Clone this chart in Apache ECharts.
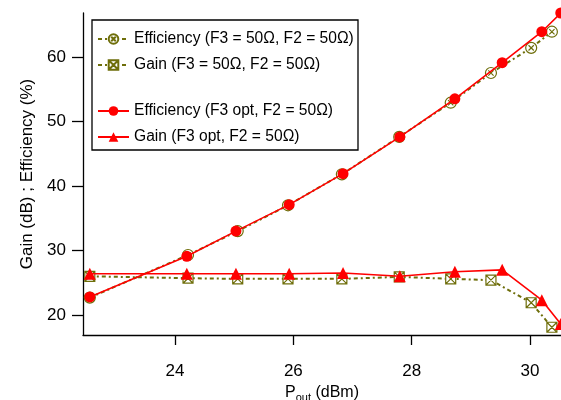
<!DOCTYPE html>
<html>
<head>
<meta charset="utf-8">
<script src="https://cdn.jsdelivr.net/npm/echarts@6/dist/echarts.min.js"></script>
<style>
html,body{margin:0;padding:0;background:#fff;}
#chart{width:561px;height:400px;}
</style>
</head>
<body>
<div id="chart"></div>
<script>
// ---- data ----
var poutF350 = [22.56, 24.22, 25.06, 25.91, 26.82, 27.79, 28.66, 29.34, 30.02, 30.37];
var effF350  = [22.7, 29.3, 33.0, 37.0, 41.8, 47.6, 52.9, 57.5, 61.4, 63.9];
var gainF350 = [26.0, 25.7, 25.6, 25.6, 25.6, 25.9, 25.6, 25.4, 21.9, 18.1];

var poutF3opt = [22.56, 24.20, 25.03, 25.93, 26.84, 27.80, 28.73, 29.53, 30.20, 30.52];
var effF3opt  = [22.8, 29.1, 33.0, 37.1, 41.9, 47.6, 53.5, 59.1, 63.9, 66.8];
var gainF3opt = [26.4, 26.4, 26.4, 26.4, 26.5, 26.0, 26.7, 27.0, 22.3, 18.6];

var xTicks = [24, 26, 28, 30];
var yTicks = [20, 30, 40, 50, 60];

var seriesNames = [
  'Efficiency (F3 = 50\u03A9, F2 = 50\u03A9)',
  'Gain (F3 = 50\u03A9, F2 = 50\u03A9)',
  'Efficiency (F3 opt, F2 = 50\u03A9)',
  'Gain (F3 opt, F2 = 50\u03A9)'
];

function pairs(xs, ys){ return xs.map(function(x,i){ return [x, ys[i]]; }); }

var OLIVE = '#6e6e0a';
var RED = '#ff0000';
var FONT = "'Liberation Sans', Arial, sans-serif";

var circX = 'path://M0,-5 A5,5 0 1,1 0,5 A5,5 0 1,1 0,-5 Z M-2.4,-2.4 L2.4,2.4 M2.4,-2.4 L-2.4,2.4';
var sqX = 'path://M-5,-5 L5,-5 L5,5 L-5,5 Z M-5,-5 L5,5 M5,-5 L-5,5';

var chart = echarts.init(document.getElementById('chart'), null, {renderer:'canvas'});
chart.setOption({
  animation: false,
  textStyle: {fontFamily: FONT},
  grid: {left: 83, right: 0, top: 13, bottom: 65, containLabel: false, outerBoundsMode: 'none'},
  xAxis: {
    type: 'value', min: 22.445, max: 30.524,
    name: '{a|P}{b|out}{a| (dBm)}',
    nameLocation: 'middle', nameGap: 45,
    nameTextStyle: {rich: {
      a: {fontSize: 16, fontFamily: FONT, color: '#000'},
      b: {fontSize: 11, fontFamily: FONT, color: '#000', padding: [10,0,0,0]}
    }},
    axisLine: {lineStyle: {color: '#000', width: 1.3}},
    axisTick: {show: true, inside: false, length: 10, lineStyle: {color:'#000', width: 1.3}, customValues: xTicks},
    axisLabel: {color: '#000', fontSize: 17, margin: 28, fontFamily: FONT, customValues: xTicks},
    splitLine: {show: false}
  },
  yAxis: {
    type: 'value', min: 16.9, max: 66.8,
    name: 'Gain (dB) ; Efficiency (%)',
    nameLocation: 'middle', nameGap: 47,
    nameTextStyle: {fontSize: 17, color: '#000', fontFamily: FONT},
    axisLine: {lineStyle: {color: '#000', width: 1.3}},
    axisTick: {show: true, inside: false, length: 11, lineStyle: {color:'#000', width: 1.3}, customValues: yTicks},
    axisLabel: {color: '#000', fontSize: 17, margin: 17, fontFamily: FONT, customValues: yTicks},
    splitLine: {show: false}
  },
  graphic: [{
    type: 'rect', z: 0,
    shape: {x: 92, y: 20, width: 266, height: 130},
    style: {fill: '#fff', stroke: '#000', lineWidth: 1.3}
  }],
  legend: [{
    data: [seriesNames[0], seriesNames[1]],
    orient: 'vertical', left: 97, top: 31, padding: 0,
    itemWidth: 31, itemHeight: 12, itemGap: 10,
    textStyle: {fontSize: 15.6, color: '#000', fontFamily: FONT}
  }, {
    data: [seriesNames[2], seriesNames[3]],
    orient: 'vertical', left: 97, top: 103, padding: 0,
    itemWidth: 31, itemHeight: 12, itemGap: 10,
    textStyle: {fontSize: 15.6, color: '#000', fontFamily: FONT}
  }],
  series: [{
    name: seriesNames[0], type: 'line', data: pairs(poutF350, effF350),
    symbol: circX, symbolSize: 11, color: OLIVE,
    lineStyle: {color: OLIVE, width: 2, type: [4,3,2,3]},
    itemStyle: {color: '#fff', borderColor: OLIVE, borderWidth: 1.2},
    clip: false, z: 2
  }, {
    name: seriesNames[1], type: 'line', data: pairs(poutF350, gainF350),
    symbol: sqX, symbolSize: 10, color: OLIVE,
    lineStyle: {color: OLIVE, width: 2, type: [4,3,2,3]},
    itemStyle: {color: '#fff', borderColor: OLIVE, borderWidth: 1.2},
    clip: false, z: 2
  }, {
    name: seriesNames[2], type: 'line', data: pairs(poutF3opt, effF3opt),
    symbol: 'circle', symbolSize: 11, color: RED,
    lineStyle: {color: RED, width: 1.6},
    itemStyle: {color: RED},
    clip: false, z: 3
  }, {
    name: seriesNames[3], type: 'line', data: pairs(poutF3opt, gainF3opt),
    symbol: 'triangle', symbolSize: 12, color: RED,
    lineStyle: {color: RED, width: 1.6},
    itemStyle: {color: RED},
    clip: false, z: 3
  }]
});
</script>
</body>
</html>
